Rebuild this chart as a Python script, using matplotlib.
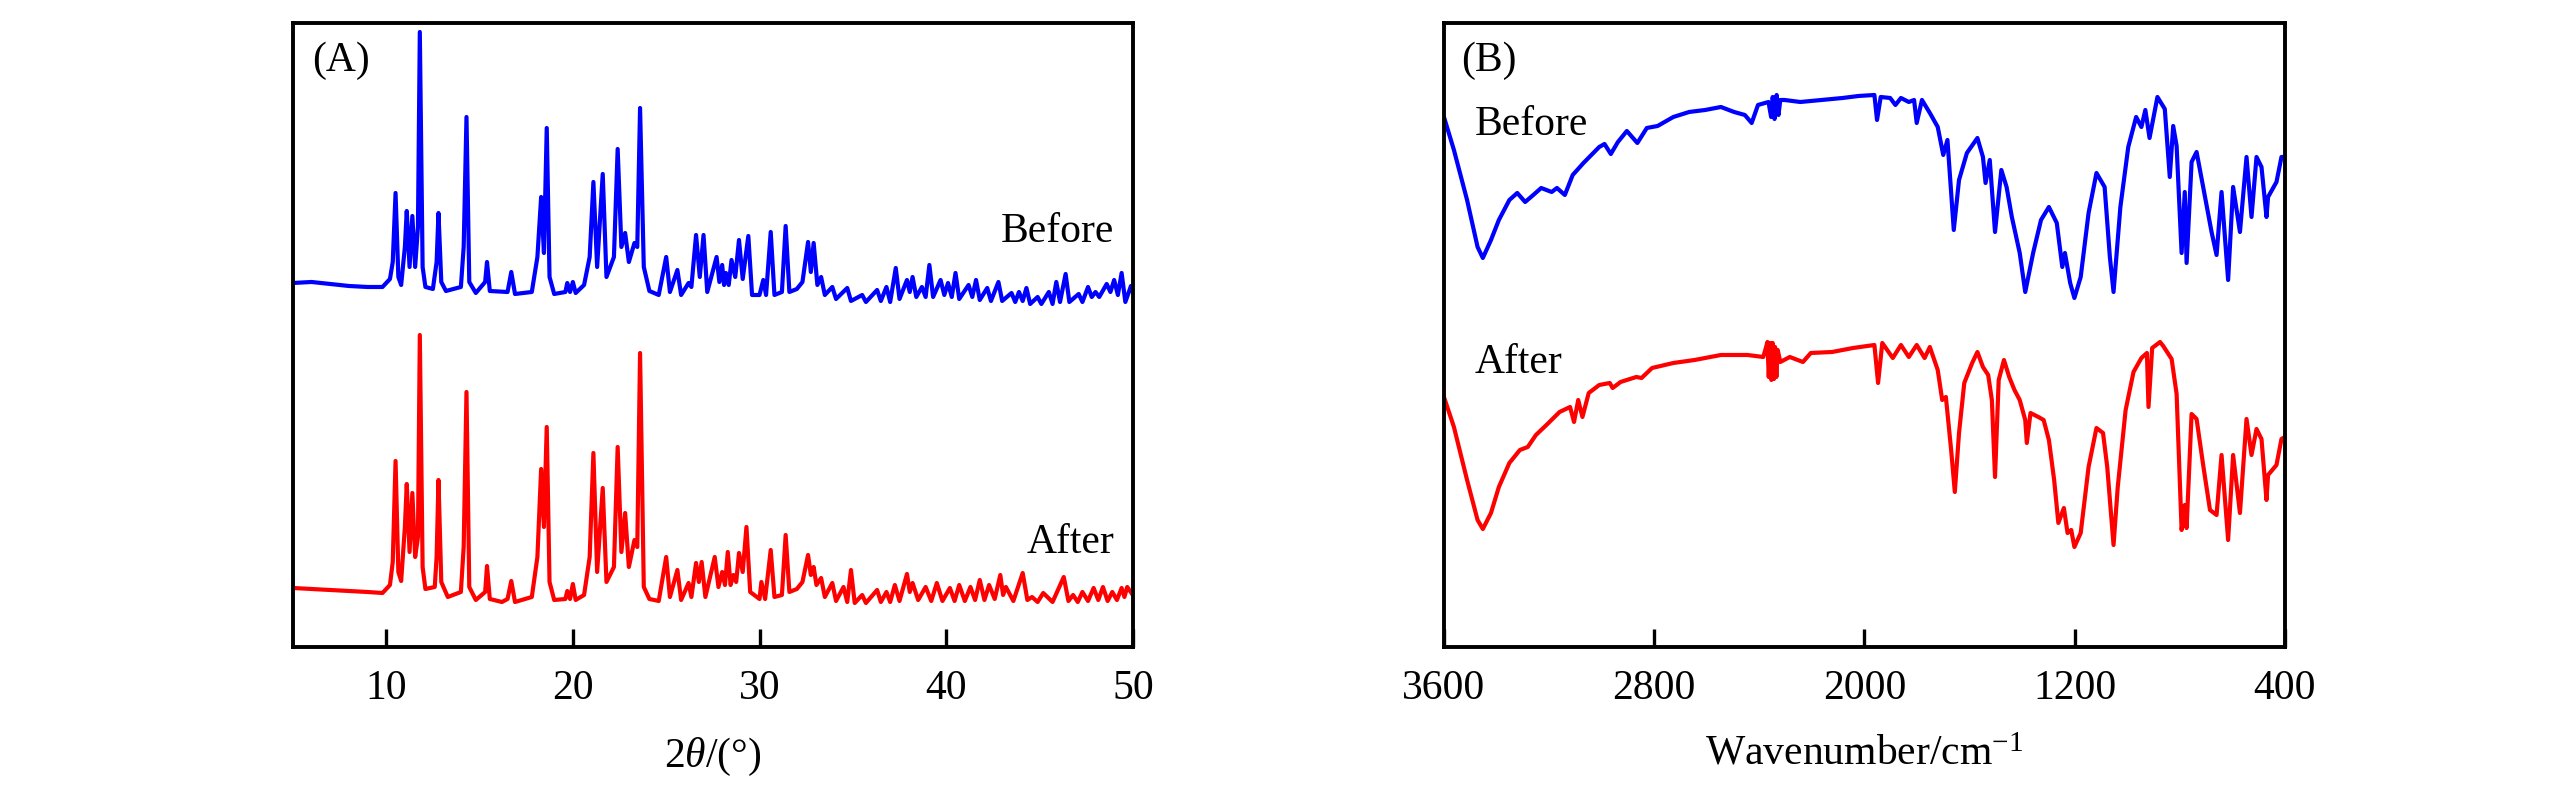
## XRD (A) and FTIR (B), before / after
import numpy as np
import matplotlib
matplotlib.use("Agg")
import matplotlib.pyplot as plt

plt.rcParams['font.family'] = ['Liberation Serif', 'DejaVu Serif']
plt.rcParams['mathtext.fontset'] = 'custom'
plt.rcParams['mathtext.rm'] = 'Liberation Serif'
plt.rcParams['mathtext.it'] = 'Liberation Serif:italic'

# ---- (A) XRD, 2theta (deg) vs intensity (a.u.) ----
xrd_before_2t = [5.0, 6.0, 7.0, 8.0, 9.0, 9.8, 10.2, 10.35, 10.5, 10.65, 10.8, 11.0, 11.1, 11.25, 11.4, 11.55,
                 11.7, 11.8, 11.95, 12.1, 12.5, 12.7, 12.8, 12.95, 13.2, 14.0, 14.15, 14.3, 14.45, 14.8, 15.3,
                 15.4, 15.55, 16.5, 16.7, 16.9, 17.8, 18.1, 18.3, 18.45, 18.6, 18.75, 19.0, 19.6, 19.7, 19.85,
                 20.0, 20.15, 20.6, 20.9, 21.1, 21.3, 21.6, 21.8, 22.2, 22.4, 22.6, 22.8, 23.0, 23.3, 23.45,
                 23.6, 23.8, 24.1, 24.6, 25.0, 25.2, 25.6, 25.8, 26.2, 26.35, 26.6, 26.8, 27.0, 27.2, 27.7,
                 27.85, 28.0, 28.1, 28.2, 28.35, 28.5, 28.7, 28.9, 29.1, 29.4, 29.6, 30.0, 30.2, 30.35, 30.6,
                 30.8, 31.2, 31.4, 31.6, 32.0, 32.3, 32.6, 32.75, 32.9, 33.1, 33.3, 33.5, 33.9, 34.1, 34.7,
                 34.9, 35.5, 35.7, 36.3, 36.5, 36.8, 37.0, 37.3, 37.5, 37.9, 38.05, 38.2, 38.4, 38.7, 38.9,
                 39.1, 39.3, 39.7, 39.9, 40.1, 40.3, 40.5, 40.7, 41.2, 41.4, 41.6, 41.8, 42.2, 42.4, 42.8,
                 43.0, 43.5, 43.7, 43.9, 44.1, 44.3, 44.5, 44.9, 45.1, 45.5, 45.7, 45.9, 46.1, 46.4, 46.6,
                 47.1, 47.3, 47.6, 47.8, 48.0, 48.2, 48.6, 48.8, 49.0, 49.2, 49.4, 49.6, 49.9, 50.0]
xrd_before_i = [364, 365, 363, 361, 360, 360, 368, 385, 454, 370, 362, 400, 436, 380, 431, 380,
                420, 615, 380, 360, 358, 385, 434, 365, 356, 360, 400, 530, 365, 354, 365,
                385, 356, 355, 375, 353, 355, 390, 450, 394, 519, 370, 353, 355, 364, 355,
                365, 354, 362, 390, 465, 380, 473, 370, 390, 498, 400, 414, 385, 404, 400,
                539, 380, 356, 352, 390, 355, 377, 352, 364, 360, 412, 370, 412, 355, 390,
                365, 382, 362, 374, 362, 387, 370, 407, 368, 411, 352, 352, 367, 352, 415,
                352, 355, 421, 355, 358, 365, 405, 375, 404, 362, 370, 352, 360, 348, 359,
                346, 352, 345, 357, 346, 360, 345, 379, 348, 367, 355, 370, 350, 360, 350,
                382, 350, 367, 352, 364, 350, 374, 348, 362, 350, 367, 347, 359, 346, 365,
                346, 354, 345, 355, 346, 359, 343, 350, 343, 355, 343, 365, 345, 373, 345,
                353, 345, 360, 350, 355, 350, 363, 355, 367, 352, 374, 345, 361, 355]

xrd_after_2t = [5.0, 6.0, 7.0, 8.0, 9.0, 9.8, 10.2, 10.35, 10.5, 10.65, 10.8, 11.0, 11.1, 11.25, 11.4, 11.55,
                11.7, 11.8, 11.95, 12.1, 12.6, 12.7, 12.8, 12.95, 13.3, 14.0, 14.15, 14.3, 14.45, 14.8, 15.3,
                15.4, 15.55, 16.2, 16.5, 16.7, 16.9, 17.8, 18.1, 18.3, 18.45, 18.6, 18.75, 19.0, 19.6, 19.7,
                19.85, 20.0, 20.15, 20.6, 20.9, 21.1, 21.3, 21.6, 21.8, 22.2, 22.4, 22.6, 22.8, 23.0, 23.3,
                23.45, 23.6, 23.8, 24.1, 24.6, 25.0, 25.2, 25.6, 25.8, 26.2, 26.35, 26.6, 26.75, 26.9, 27.1,
                27.6, 27.8, 28.0, 28.15, 28.3, 28.45, 28.6, 28.75, 28.9, 29.1, 29.3, 29.5, 30.0, 30.1, 30.3,
                30.6, 30.8, 31.2, 31.4, 31.6, 32.0, 32.3, 32.6, 32.75, 32.9, 33.05, 33.3, 33.5, 33.9, 34.1,
                34.5, 34.7, 34.9, 35.1, 35.5, 35.7, 36.3, 36.5, 36.8, 37.0, 37.25, 37.5, 37.9, 38.05, 38.2,
                38.5, 38.9, 39.2, 39.5, 39.8, 40.2, 40.45, 40.7, 41.0, 41.3, 41.55, 41.8, 42.05, 42.3, 42.6,
                42.9, 43.05, 43.2, 43.6, 44.1, 44.35, 44.6, 44.9, 45.2, 45.7, 46.3, 46.55, 46.8, 47.05, 47.3,
                47.6, 47.9, 48.15, 48.4, 48.65, 48.9, 49.15, 49.4, 49.55, 49.7, 50.0]
xrd_after_i = [59, 58, 57, 56, 55, 54, 62, 85, 186, 75, 66, 120, 163, 95, 154, 90,
               110, 312, 80, 58, 60, 90, 167, 65, 50, 55, 100, 255, 60, 47, 55,
               81, 48, 45, 48, 66, 45, 50, 90, 178, 120, 220, 65, 47, 48, 56,
               48, 63, 47, 52, 90, 194, 75, 159, 65, 80, 200, 95, 134, 80, 107,
               100, 294, 60, 48, 46, 90, 50, 77, 47, 64, 50, 84, 65, 85, 50,
               90, 60, 75, 62, 95, 62, 72, 65, 94, 75, 120, 55, 48, 65, 48,
               97, 50, 52, 112, 55, 58, 65, 92, 72, 80, 62, 69, 50, 64, 46,
               60, 45, 77, 44, 52, 44, 57, 45, 55, 45, 62, 46, 73, 55, 64,
               47, 60, 46, 64, 46, 59, 46, 62, 46, 60, 47, 67, 47, 62, 48,
               72, 52, 60, 46, 74, 47, 50, 45, 54, 45, 70, 46, 52, 45, 55,
               46, 59, 47, 60, 46, 55, 47, 59, 50, 60, 52]

# ---- (B) FTIR, wavenumber (cm-1) vs transmittance (a.u.) ----
ir_before_w = [3600, 3562, 3512, 3472, 3452, 3421, 3391, 3351, 3321, 3291, 3260, 3230, 3190, 3170, 3140, 3110,
               3069, 3039, 3009, 2989, 2965, 2938, 2904, 2864, 2828, 2787, 2727, 2667, 2606, 2546, 2496, 2455,
               2429, 2405, 2365, 2355, 2349, 2342, 2334, 2327, 2320, 2304, 2244, 2163, 2083, 2022, 1962, 1952,
               1938, 1902, 1882, 1861, 1831, 1811, 1801, 1781, 1751, 1721, 1700, 1684, 1660, 1640, 1610, 1570,
               1549, 1539, 1523, 1503, 1479, 1459, 1439, 1409, 1388, 1358, 1328, 1298, 1268, 1247, 1237, 1217,
               1201, 1177, 1147, 1117, 1086, 1066, 1052, 1026, 996, 966, 946, 931, 915, 885, 857, 838, 825, 812,
               793, 781, 774, 755, 736, 711, 679, 660, 641, 616, 597, 571, 546, 527, 508, 489, 470, 464, 432,
               413, 400]
ir_before_t = [530, 497, 447, 400, 389, 407, 427, 447, 454, 445, 452, 459, 455, 459, 452, 472,
               484, 492, 500, 503, 493, 505, 516, 504, 519, 521, 530, 535, 537, 540, 535, 532,
               524, 542, 545, 530, 550, 528, 552, 532, 547, 547, 545, 547, 549, 551, 552, 527,
               550, 549, 542, 549, 545, 547, 524, 547, 534, 520, 492, 507, 417, 467, 494, 509,
               490, 464, 487, 415, 477, 460, 430, 394, 355, 394, 427, 440, 424, 380, 394, 364,
               349, 370, 434, 474, 460, 390, 355, 440, 500, 530, 520, 537, 509, 550, 538, 470, 521, 501,
               394, 455, 384, 485, 495, 460, 415, 392, 455, 367, 460, 415, 490, 430, 490, 480, 430, 450, 465,
               490, 490]

ir_after_w = [3600, 3562, 3512, 3472, 3452, 3421, 3391, 3351, 3311, 3281, 3250, 3210, 3160, 3120, 3105, 3089,
              3073, 3049, 3009, 2969, 2958, 2928, 2868, 2848, 2808, 2727, 2646, 2546, 2445, 2385, 2374, 2369,
              2364, 2359, 2354, 2349, 2344, 2340, 2335, 2330, 2320, 2284, 2234, 2204, 2123, 2043, 1962, 1948,
              1932, 1892, 1861, 1831, 1801, 1771, 1751, 1721, 1704, 1690, 1670, 1656, 1640, 1620, 1590, 1570,
              1549, 1529, 1515, 1503, 1489, 1469, 1449, 1429, 1409, 1388, 1382, 1368, 1338, 1318, 1298, 1278,
              1262, 1241, 1227, 1213, 1201, 1177, 1147, 1117, 1092, 1076, 1052, 1036, 1006, 976, 946, 925, 919,
              905, 875, 863, 831, 812, 793, 781, 774, 755, 736, 711, 685, 660, 641, 616, 597, 571, 546, 527,
              508, 489, 470, 464, 432, 413, 400]
ir_after_t = [250, 220, 167, 127, 118, 134, 160, 184, 197, 200, 212, 222, 235, 240, 225, 247,
              230, 254, 262, 264, 259, 265, 270, 269, 279, 284, 287, 292, 292, 290, 300, 305,
              270, 304, 267, 304, 268, 300, 270, 297, 285, 290, 285, 294, 295, 299, 302, 264,
              304, 289, 302, 290, 302, 289, 300, 277, 247, 250, 197, 155, 214, 264, 284, 295,
              280, 272, 247, 170, 267, 287, 270, 257, 247, 227, 204, 234, 230, 227, 207, 167,
              124, 139, 114, 117, 100, 114, 180, 219, 214, 180, 102, 160, 237, 275, 289, 294, 240,
              299, 305, 301, 288, 253, 117, 142, 119, 233, 228, 182, 137, 132, 192, 107, 192, 134, 228, 192,
              218, 208, 147, 172, 182, 208, 210]

fig = plt.figure(figsize=(25.67, 7.87), dpi=100)
axA = fig.add_axes([0.1141, 0.1779, 0.3272, 0.7929])
axB = fig.add_axes([0.5625, 0.1779, 0.3276, 0.7929])

axA.plot(xrd_before_2t, xrd_before_i, color='#0000ff', lw=3)
axA.plot(xrd_after_2t, xrd_after_i, color='#ff0000', lw=3)
axA.set_xlim(5, 50)
axA.set_ylim(0, 624)
axA.set_xticks([10, 20, 30, 40, 50])
axA.set_xlabel(r'2$\mathit{\theta}$/(°)', fontsize=30, labelpad=20)
axA.text(0.023, 0.94, '(A)', transform=axA.transAxes, fontsize=30, ha='left', va='center')
axA.text(49.0, 415, 'Before', fontsize=30, ha='right', va='center')
axA.text(49.0, 104, 'After', fontsize=30, ha='right', va='center')

axB.plot(ir_before_w, ir_before_t, color='#0000ff', lw=3)
axB.plot(ir_after_w, ir_after_t, color='#ff0000', lw=3)
axB.set_xlim(3600, 400)
axB.set_ylim(0, 624)
axB.set_xticks([3600, 2800, 2000, 1200, 400])
axB.set_xlabel(r'Wavenumber/cm$^{-1}$', fontsize=30, labelpad=20)
axB.text(0.021, 0.94, '(B)', transform=axB.transAxes, fontsize=30, ha='left', va='center')
axB.text(0.037, 0.837, 'Before', transform=axB.transAxes, fontsize=30, ha='left', va='center')
axB.text(0.037, 0.455, 'After', transform=axB.transAxes, fontsize=30, ha='left', va='center')

for ax in (axA, axB):
    ax.set_yticks([])
    ax.tick_params(axis='x', direction='in', length=13, width=2.4, labelsize=30, pad=16)
    for s in ax.spines.values():
        s.set_linewidth(2.8)

fig.savefig('out.png', dpi=100)
